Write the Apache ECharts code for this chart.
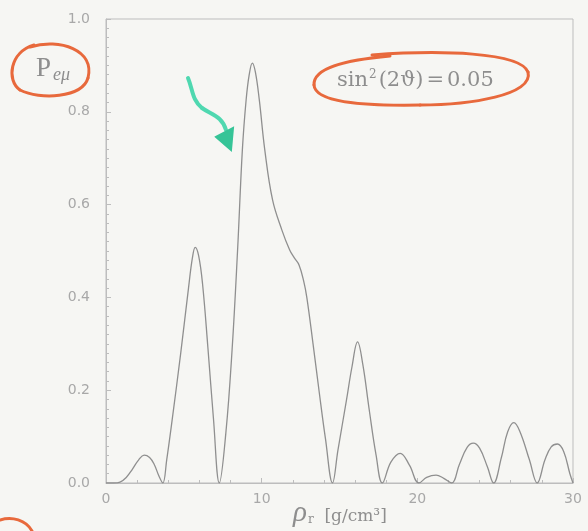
<!DOCTYPE html>
<html>
<head>
<meta charset="utf-8">
<script src="https://cdn.jsdelivr.net/npm/echarts@6/dist/echarts.min.js"></script>
<style>
  html, body { margin: 0; padding: 0; background: #f6f6f3; }
  #chart { width: 588px; height: 531px; }
</style>
</head>
<body>
<div id="chart"></div>
<script>
// Matter density rho_r (g/cm^3) and conversion probability P_e-mu
const rho = [0, 0.5, 0.9, 1.3, 1.7, 2.1, 2.45, 2.8, 3.1, 3.4, 3.65,
  3.9, 4.25, 4.8, 5.3, 5.55, 5.73, 5.95, 6.2, 6.55, 6.9, 7.28,
  7.7, 8.1, 8.45, 8.76, 9.0, 9.2, 9.4, 9.6, 9.85, 10.2, 10.7, 11.3, 11.8, 12.1, 12.4, 12.7, 12.9, 13.3, 13.7, 14.1, 14.55,
  14.9, 15.45, 15.8, 16.16, 16.5, 16.9, 17.35, 17.75,
  18.3, 18.9, 19.5, 20.1,
  20.6, 21.2, 21.7, 22.2,
  22.7, 23.2, 23.6, 24.0, 24.5, 24.9,
  25.4, 25.8, 26.2, 26.6, 27.2, 27.7,
  28.2, 28.6, 29.0, 29.4, 29.8, 30];
const prob = [0, 0, 0.002, 0.012, 0.03, 0.05, 0.06, 0.055, 0.04, 0.015, 0,
  0.05, 0.136, 0.28, 0.42, 0.485, 0.508, 0.49, 0.43, 0.29, 0.14, 0,
  0.108, 0.287, 0.50, 0.718, 0.825, 0.88, 0.905, 0.885, 0.825, 0.718, 0.61, 0.545, 0.502, 0.485, 0.47, 0.435, 0.40, 0.30, 0.195, 0.095, 0,
  0.071, 0.179, 0.25, 0.304, 0.255, 0.16, 0.06, 0,
  0.045, 0.064, 0.038, 0,
  0.012, 0.017, 0.01, 0,
  0.04, 0.077, 0.086, 0.075, 0.035, 0,
  0.055, 0.11, 0.13, 0.11, 0.05, 0,
  0.05, 0.078, 0.084, 0.068, 0.02, 0];

const xTicks = [0, 10, 20, 30];
const yTicks = [0, 0.2, 0.4, 0.6, 0.8, 1.0];

const curve = rho.map((r, i) => [r, prob[i]]);

const axisGray = '#bdbdbd';
const labelGray = '#a8a8a8';
const textGray = '#8e8e8e';

// Turn a chain of cubic segments [start, c1, c2, end, c1, c2, end, ...] into bezierCurve graphics
function strokeChain(pts, color, width) {
  const out = [];
  for (let i = 0; i + 3 < pts.length; i += 3) {
    out.push({
      type: 'bezierCurve',
      shape: {
        x1: pts[i][0], y1: pts[i][1],
        cpx1: pts[i + 1][0], cpy1: pts[i + 1][1],
        cpx2: pts[i + 2][0], cpy2: pts[i + 2][1],
        x2: pts[i + 3][0], y2: pts[i + 3][1]
      },
      style: { fill: null, stroke: color, lineWidth: width, lineCap: 'round' }
    });
  }
  return out;
}

const orange = '#e8693c';
const green = '#4fd8b0';

const marks = [].concat(
  strokeChain([[30, 47], [60, 38], [95, 50], [88, 78], [82, 98], [40, 100], [20, 90],
    [6, 80], [10, 52], [34, 45]], orange, 3),
  strokeChain([[372, 55], [440, 50], [520, 52], [528, 72], [534, 95], [470, 105], [420, 105],
    [360, 106], [315, 102], [314, 85], [313, 68], [345, 60], [390, 56]], orange, 3),
  strokeChain([[0, 520], [12, 516], [26, 520], [32, 531]], orange, 3),
  strokeChain([[188, 78], [193, 90], [192, 100], [202, 108], [212, 115], [222, 116], [226, 130]], green, 4)
);

const chart = echarts.init(document.getElementById('chart'), null, { renderer: 'canvas' });
chart.setOption({
  backgroundColor: '#f6f6f3',
  animation: false,
  grid: { left: 106, right: 15, top: 19, bottom: 48, show: true, borderColor: axisGray, borderWidth: 1 },
  xAxis: {
    type: 'value', min: xTicks[0], max: xTicks[xTicks.length - 1], interval: 10,
    axisLine: { lineStyle: { color: axisGray } },
    axisTick: { inside: true, length: 5, lineStyle: { color: axisGray } },
    minorTick: { show: true, splitNumber: 5, length: 3, lineStyle: { color: axisGray } },
    splitLine: { show: false },
    axisLabel: { color: labelGray, fontSize: 14, margin: 9, fontFamily: 'DejaVu Sans' }
  },
  yAxis: {
    type: 'value', min: yTicks[0], max: yTicks[yTicks.length - 1], interval: 0.2,
    axisLine: { show: true, lineStyle: { color: axisGray } },
    axisTick: { show: true, inside: true, length: 5, lineStyle: { color: axisGray } },
    minorTick: { show: true, splitNumber: 10, length: 3, lineStyle: { color: axisGray } },
    splitLine: { show: false },
    axisLabel: { color: labelGray, fontSize: 14, margin: 16, fontFamily: 'DejaVu Sans', formatter: v => v.toFixed(1) }
  },
  series: [{
    type: 'line', data: curve, showSymbol: false, smooth: 0.4,
    lineStyle: { color: '#8f8f8f', width: 1.3 }
  }],
  graphic: marks.concat([
    // y-axis title
    {
      type: 'text', left: 36, top: 55,
      style: {
        text: '{p|P}{s|eμ}',
        rich: {
          p: { fontFamily: 'Liberation Serif', fontSize: 27, fill: textGray },
          s: { fontFamily: 'Liberation Serif', fontStyle: 'italic', fontSize: 18, fill: textGray, padding: [14, 0, 0, 2] }
        }
      }
    },
    // mixing angle note
    {
      type: 'text', left: 337, top: 69,
      style: {
        text: '{t|sin}{e|2}{t|(2ϑ)}{q|=}{t|0.05}',
        rich: {
          t: { fontFamily: 'DejaVu Serif', fontSize: 21, fill: textGray },
          q: { fontFamily: 'DejaVu Serif', fontSize: 21, fill: textGray, padding: [0, 3, 0, 3] },
          e: { fontFamily: 'DejaVu Serif', fontSize: 12, fill: textGray, padding: [0, 2, 12, 1] }
        }
      }
    },
    // x-axis title
    {
      type: 'text', left: 293, top: 499,
      style: {
        text: '{r|ρ}{s|r}{u|  [g/cm³]}',
        rich: {
          r: { fontFamily: 'Liberation Serif', fontStyle: 'italic', fontSize: 29, fill: textGray },
          s: { fontFamily: 'DejaVu Serif', fontSize: 12, fill: textGray, padding: [12, 0, 0, 1] },
          u: { fontFamily: 'DejaVu Serif', fontSize: 17, fill: textGray, padding: [6, 0, 0, 0] }
        }
      }
    },
    // arrow head
    {
      type: 'polygon', shape: { points: [[216, 137], [233, 128], [231, 150]] },
      style: { fill: '#36c497', stroke: '#36c497', lineWidth: 2 }
    }
  ])
});
</script>
</body>
</html>
